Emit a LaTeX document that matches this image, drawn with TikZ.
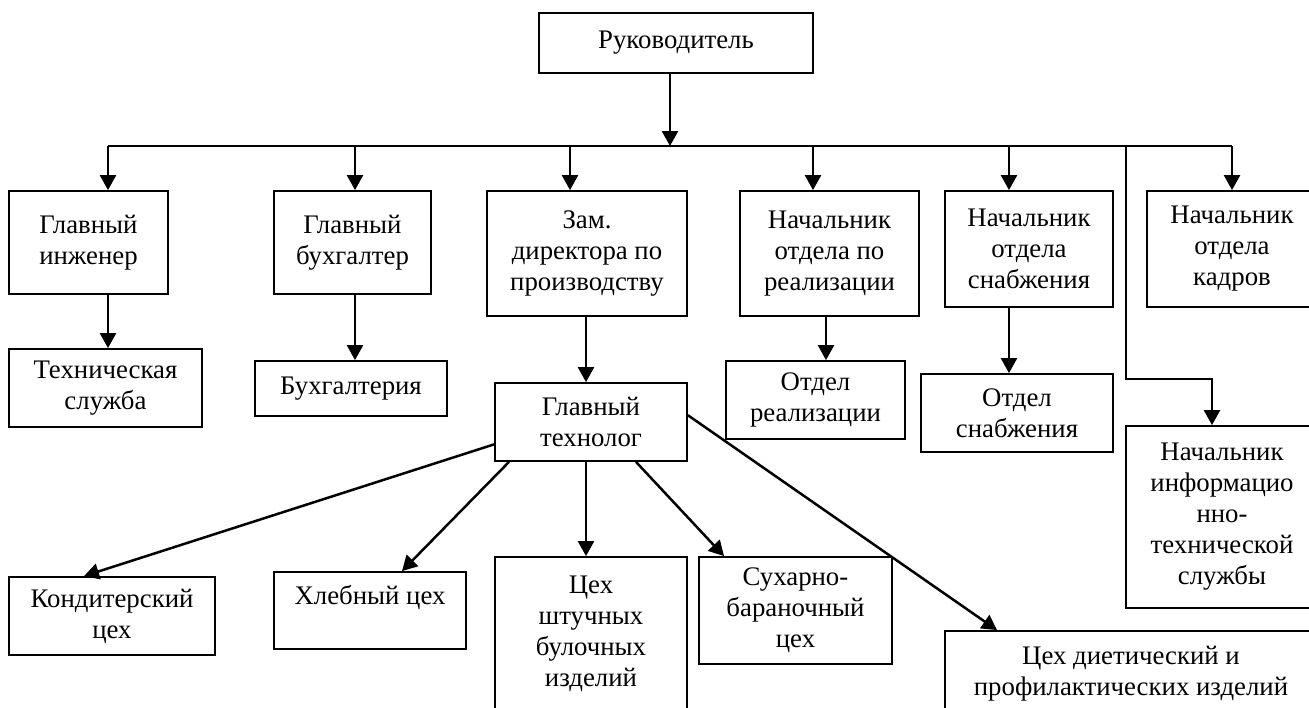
\documentclass[tikz,border=0pt]{standalone}
\usepackage{fontspec}
\setmainfont{Liberation Serif}
\usetikzlibrary{arrows.meta, calc, positioning}

\begin{document}
\begin{tikzpicture}[x=1pt, y=-1pt,
  box/.style={shape=rectangle, draw=black, line width=1.8pt, fill=white, align=center, inner sep=2pt, font=\fontsize{26.8}{31}\selectfont},
  arr/.style={line width=2.5pt, -{Triangle[length=15pt, width=16pt]}}]
\clip (0,0) rectangle (1309,707);
\node[box, minimum width=274, minimum height=60] (ruk) at (676,43) {Руководитель};
%first level
\node[box, minimum width=159, minimum height=103] (inzh) at (88.5,242.5) {Главный\\инженер};
\node[box, minimum width=157, minimum height=103] (bukh) at (352.5,242.5) {Главный\\бухгалтер};
\node[box, minimum width=200, minimum height=125] (zam) at (587,253.5) {Зам.\\директора по\\производству};
\node[box, minimum width=179, minimum height=125] (nreal) at (829.5,253.5) {Начальник\\отдела по\\реализации};
\node[box, minimum width=168, minimum height=116] (nsnab) at (1029,249) {Начальник\\отдела\\снабжения};
\node[box, minimum width=170, minimum height=116] (nkadr) at (1232,249) {Начальник\\отдела\\кадров};
%second level
\node[box, minimum width=193, minimum height=78] (tech) at (105.5,388) {Техническая\\служба};
\node[box, minimum width=192, minimum height=55] (buh) at (351,388.5) {Бухгалтерия};
\node[box, minimum width=192, minimum height=78] (tehn) at (591,422) {Главный\\технолог};
\node[box, minimum width=179, minimum height=78] (oreal) at (815.5,400) {Отдел\\реализации};
\node[box, minimum width=192, minimum height=78] (osnab) at (1017,413) {Отдел\\снабжения};
\node[box, minimum width=192, minimum height=182] (info) at (1222,517) {Начальник\\информацио\\нно-\\технической\\службы};
%workshops
\node[box, minimum width=206, minimum height=78] (kond) at (112,616) {Кондитерский\\цех};
\node[box, minimum width=192, minimum height=77] (hleb) at (370,610.5) {Хлебный цех\\\mbox{}};
\node[box, minimum width=192, minimum height=153] (shtuch) at (591,633.5) {Цех\\штучных\\булочных\\изделий};
\node[box, minimum width=193, minimum height=107] (suh) at (795.5,610.5) {Сухарно-\\бараночный\\цех};
\node[box, minimum width=372, minimum height=85] (diet) at (1131,673.5) {Цех диетический и\\профилактических изделий};
%%
\coordinate (busL) at (108,146); \coordinate (busR) at (1232,146); \coordinate (elbow) at (1212,379);
\draw[line width=2.5pt] (busL) -- (busR);
\draw[arr] (670,0 |- ruk.south) -- (670,0 |- busL);
\foreach \x/\n in {108/inzh, 355/bukh, 570/zam, 813/nreal, 1009/nsnab, 1232/nkadr}
  \draw[arr] (\x,0 |- busL) -- (\x,0 |- \n.north);
\draw[arr] (1126,0 |- busL) |- (elbow) -- (elbow |- info.north);
\draw[arr] (108,0 |- inzh.south) -- (108,0 |- tech.north);
\draw[arr] (355,0 |- bukh.south) -- (355,0 |- buh.north);
\draw[arr] (586,0 |- zam.south) -- (586,0 |- tehn.north);
\draw[arr] (826,0 |- nreal.south) -- (826,0 |- oreal.north);
\draw[arr] (1009,0 |- nsnab.south) -- (1009,0 |- osnab.north);
\draw[arr] (tehn.193) -- (84,0 |- kond.north);
\draw[arr] (509,0 |- tehn.south) -- (402,0 |- hleb.north);
\draw[arr] (586,0 |- tehn.south) -- (586,0 |- shtuch.north);
\draw[arr] (636,0 |- tehn.south) -- (724,0 |- suh.north);
\draw[arr] (tehn.4) -- (997,0 |- diet.north);
\end{tikzpicture}
\end{document}
